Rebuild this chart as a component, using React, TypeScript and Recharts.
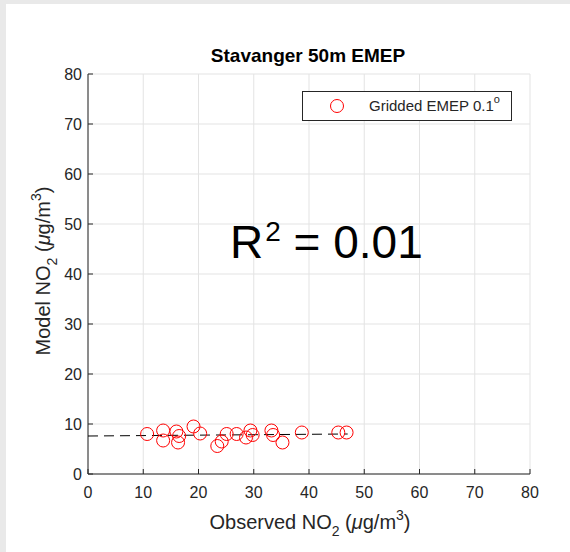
import { ScatterChart, Scatter, XAxis, YAxis, CartesianGrid, Legend } from 'recharts';

// observed vs modelled NO2 at each station (µg/m3)
const observed = [10.7, 13.6, 13.6, 16.0, 16.5, 16.3, 19.1, 20.3, 23.4, 24.2, 25.1, 26.9, 28.6, 29.4, 29.8, 33.2, 33.5, 35.2, 38.7, 45.3, 46.8];
const modelled = [8.0, 8.7, 6.7, 8.5, 7.6, 6.3, 9.5, 8.1, 5.6, 6.5, 8.0, 8.0, 7.3, 8.7, 7.8, 8.7, 7.8, 6.3, 8.3, 8.3, 8.3];

// least squares fit line end points
const fitX = [0, 47];
const fitY = [7.6, 8.0];

const axisTicks = [0, 10, 20, 30, 40, 50, 60, 70, 80];

const points = observed.map((x, i) => ({ x, y: modelled[i] }));
const fitLine = fitX.map((x, i) => ({ x, y: fitY[i] }));

const FONT = '"Liberation Sans", Arial, Helvetica, sans-serif';
const AXIS = '#262626';

function XTick(props: any) {
  const { x, y, payload } = props;
  return (
    <g>
      <line x1={x} x2={x} y1={y} y2={y - 5} stroke={AXIS} />
      <text x={x} y={y + 24} textAnchor="middle" fill={AXIS} fontSize={16} fontFamily={FONT}>
        {payload.value}
      </text>
    </g>
  );
}

function YTick(props: any) {
  const { x, y, payload } = props;
  return (
    <g>
      <line x1={x} x2={x + 5} y1={y} y2={y} stroke={AXIS} />
      <text x={x - 6} y={y + 6} textAnchor="end" fill={AXIS} fontSize={16} fontFamily={FONT}>
        {payload.value}
      </text>
    </g>
  );
}

function OpenCircle(props: any) {
  const { cx, cy } = props;
  return <circle cx={cx} cy={cy} r={6.5} fill="none" stroke="#ff0000" strokeWidth={1} />;
}

function NoMarker() {
  return <g />;
}

function LegendBox() {
  return (
    <svg width={211} height={31} style={{ display: 'block' }}>
      <rect x={0.5} y={0.5} width={209} height={29} fill="#fff" stroke={AXIS} />
      <circle cx={35} cy={15} r={6.5} fill="none" stroke="#ff0000" />
      <text x={67} y={20} fontSize={15} fontFamily={FONT} fill={AXIS}>
        Gridded EMEP 0.1
        <tspan fontSize={11} dy={-8}>o</tspan>
      </text>
    </svg>
  );
}

function UnitLabel({ name }: { name: string }) {
  return (
    <text x={0} y={0} textAnchor="middle" fontSize={20} fontFamily={FONT} fill={AXIS}>
      {name} NO<tspan fontSize={14} dy={7}>2</tspan>
      <tspan dy={-7}> (</tspan>
      <tspan fontStyle="italic">μ</tspan>g/m<tspan fontSize={14} dy={-9}>3</tspan>
      <tspan dy={9}>)</tspan>
    </text>
  );
}

export default function App() {
  return (
    <div style={{ position: 'absolute', left: 0, top: 0, width: 570, height: 552, background: '#e9e9e9' }}>
      <div style={{ position: 'absolute', left: 6, top: 4, right: 0, bottom: 0, background: '#fff' }} />
      <div style={{ position: 'absolute', left: 0, top: 0 }}>
        <ScatterChart width={570} height={552} margin={{ top: 74, right: 40, left: 28, bottom: 18 }}>
          <CartesianGrid stroke="#e3e3e3" />
          <XAxis
            type="number"
            dataKey="x"
            domain={[0, 80]}
            ticks={axisTicks}
            height={60}
            tickSize={0}
            tickMargin={0}
            tick={XTick}
            axisLine={{ stroke: AXIS }}
            tickLine={false}
          />
          <YAxis
            type="number"
            dataKey="y"
            domain={[0, 80]}
            ticks={axisTicks}
            width={60}
            tickSize={0}
            tickMargin={0}
            tick={YTick}
            axisLine={{ stroke: AXIS }}
            tickLine={false}
          />
          <Legend
            layout="horizontal"
            verticalAlign="middle"
            content={LegendBox}
            wrapperStyle={{ position: 'absolute', left: 302, top: 91, width: 211, height: 31 }}
          />
          <Scatter
            data={fitLine}
            line={{ stroke: '#000', strokeWidth: 1, strokeDasharray: '10 6' }}
            shape={NoMarker}
            isAnimationActive={false}
            legendType="none"
          />
          <Scatter
            name="Gridded EMEP 0.1°"
            data={points}
            shape={OpenCircle}
            isAnimationActive={false}
          />
        </ScatterChart>
      </div>
      <svg width={570} height={552} style={{ position: 'absolute', left: 0, top: 0, pointerEvents: 'none' }}>
        <text x={308} y={62} textAnchor="middle" fontSize={19} fontWeight="bold" fontFamily={FONT} fill="#000">
          Stavanger 50m EMEP
        </text>
        <text x={230} y={258} fontSize={46} fontFamily={FONT} fill="#000">
          R<tspan fontSize={28} dy={-17} dx={2}>2</tspan>
          <tspan dy={17}> = 0.01</tspan>
        </text>
        <g transform="translate(310 529)">
          <UnitLabel name="Observed" />
        </g>
        <g transform="translate(50 271) rotate(-90)">
          <UnitLabel name="Model" />
        </g>
      </svg>
    </div>
  );
}
